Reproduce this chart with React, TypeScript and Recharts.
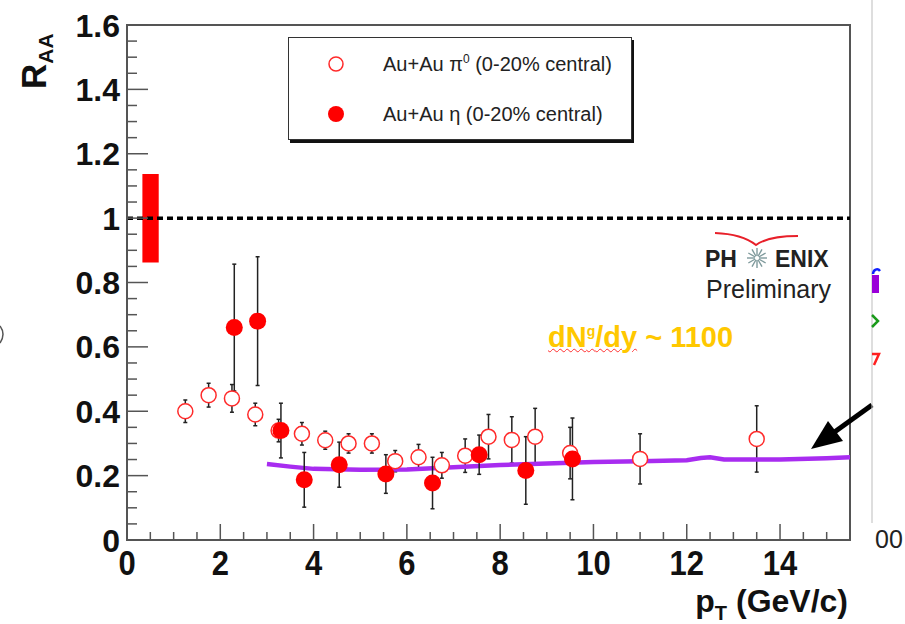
import React from "react";
import {
  ComposedChart,
  Scatter,
  Line,
  XAxis,
  YAxis,
  ErrorBar,
  ReferenceLine,
  ReferenceArea,
} from "recharts";

const FONT = '"Liberation Sans", Arial, Helvetica, sans-serif';

// Au+Au pi0, 0-20% central
const pi0Pt = [1.25, 1.75, 2.25, 2.75, 3.25, 3.75, 4.25, 4.75, 5.25, 5.75, 6.25, 6.75, 7.25, 7.75, 8.25, 8.75, 9.5, 11.0, 13.5];
const pi0Raa = [0.4, 0.45, 0.44, 0.39, 0.34, 0.33, 0.31, 0.3, 0.3, 0.245, 0.257, 0.232, 0.262, 0.321, 0.311, 0.321, 0.27, 0.252, 0.314];
const pi0Err = [0.035, 0.037, 0.043, 0.035, 0.035, 0.035, 0.028, 0.03, 0.03, 0.033, 0.04, 0.04, 0.052, 0.069, 0.072, 0.088, 0.08, 0.078, 0.103];

// Au+Au eta, 0-20% central
const etaPt = [2.3, 2.8, 3.3, 3.8, 4.55, 5.55, 6.55, 7.55, 8.55, 9.55];
const etaRaa = [0.66, 0.68, 0.34, 0.187, 0.234, 0.205, 0.177, 0.265, 0.216, 0.252];
const etaErr = [0.197, 0.2, 0.085, 0.085, 0.07, 0.06, 0.08, 0.061, 0.105, 0.127];

// GLV curve, dNg/dy ~ 1100
const curvePt = [3.0, 3.5, 4.0, 5.0, 6.0, 7.0, 8.0, 9.0, 10.0, 11.0, 12.0, 12.3, 12.5, 12.8, 14.0, 15.0, 15.5];
const curveRaa = [0.236, 0.228, 0.221, 0.218, 0.219, 0.226, 0.233, 0.238, 0.242, 0.245, 0.248, 0.255, 0.257, 0.25, 0.25, 0.254, 0.257];

// normalisation uncertainty box at R_AA = 1
const normBoxPt = [0.33, 0.68];
const normBoxRaa = [0.862, 1.137];

const xMajor = [0, 2, 4, 6, 8, 10, 12, 14];
const yMajor = [0, 0.2, 0.4, 0.6, 0.8, 1, 1.2, 1.4, 1.6];
const xTicks = Array.from({ length: 32 }, (_, i) => i * 0.5);
const yTicks = Array.from({ length: 33 }, (_, i) => Math.round(i * 5) / 100);

const pi0 = pi0Pt.map((pt, i) => ({ pt, r: pi0Raa[i], err: pi0Err[i] }));
const eta = etaPt.map((pt, i) => ({ pt, r: etaRaa[i], err: etaErr[i] }));
const curve = curvePt.map((pt, i) => ({ pt, r: curveRaa[i] }));

const isMajor = (list: number[], v: number) => list.some((m) => Math.abs(m - v) < 1e-6);

const XTick = (props: any) => {
  const { x, y, payload } = props;
  const major = isMajor(xMajor, payload.value);
  return (
    <g>
      <line x1={x} x2={x} y1={y} y2={y - (major ? 16 : 8)} stroke="#555" strokeWidth={1.5} />
      {major && (
        <text
          transform={`translate(${x},${y + 35}) scale(1,1.12)`}
          textAnchor="middle"
          fontFamily={FONT}
          fontWeight="bold"
          fontSize={31}
          fill="#111"
        >
          {payload.value}
        </text>
      )}
    </g>
  );
};

const YTick = (props: any) => {
  const { x, y, payload } = props;
  const major = isMajor(yMajor, payload.value);
  return (
    <g>
      <line x1={x} x2={x + (major ? 21 : 10)} y1={y} y2={y} stroke="#555" strokeWidth={1.5} />
      {major && (
        <text
          x={x - 7}
          y={y + 11.5}
          textAnchor="end"
          fontFamily={FONT}
          fontWeight="bold"
          fontSize={32}
          fill="#111"
        >
          {String(Number(payload.value.toFixed(1)))}
        </text>
      )}
    </g>
  );
};

const OpenCircle = (p: any) => (
  <circle cx={p.cx} cy={p.cy} r={7.5} fill="#fff" stroke="#ff2a2a" strokeWidth={1.5} />
);
const FullCircle = (p: any) => <circle cx={p.cx} cy={p.cy} r={8.5} fill="#ff0000" />;

function Legend() {
  const row = (filled: boolean, top: number, label: React.ReactNode) => (
    <div style={{ position: "absolute", left: 0, top, height: 20, display: "flex", alignItems: "center" }}>
      <svg width={20} height={20} style={{ position: "absolute", left: 37, top: 0 }}>
        {filled ? (
          <circle cx={10} cy={10} r={8} fill="#ff0000" />
        ) : (
          <circle cx={10} cy={10} r={7} fill="#fff" stroke="#ff2a2a" strokeWidth={1.5} />
        )}
      </svg>
      <span style={{ position: "absolute", left: 94, whiteSpace: "nowrap", fontSize: 20, color: "#222" }}>
        {label}
      </span>
    </div>
  );
  return (
    <div
      style={{
        position: "absolute",
        left: 288,
        top: 37,
        width: 342,
        height: 101,
        border: "1.5px solid #333",
        boxShadow: "2px 3px 0 #111",
        background: "#fff",
        fontFamily: FONT,
      }}
    >
      {row(false, 16, <>Au+Au π<sup style={{ fontSize: 12 }}>0</sup> (0-20% central)</>)}
      {row(true, 66, <>Au+Au η (0-20% central)</>)}
    </div>
  );
}

export default function App() {
  return (
    <div style={{ position: "absolute", left: 0, top: 0, width: 905, height: 624, background: "#fff", overflow: "hidden" }}>
      <ComposedChart width={905} height={624} margin={{ top: 25, right: 55, bottom: 24, left: 0 }}>
        <XAxis
          dataKey="pt"
          type="number"
          domain={[0, 15.5]}
          ticks={xTicks}
          interval={0}
          allowDataOverflow
          height={60}
          tickSize={0}
          tickMargin={0}
          tickLine={false}
          axisLine={{ stroke: "#555", strokeWidth: 2 }}
          tick={<XTick />}
        />
        <YAxis
          type="number"
          domain={[0, 1.6]}
          ticks={yTicks}
          interval={0}
          allowDataOverflow
          width={127}
          tickSize={0}
          tickMargin={0}
          tickLine={false}
          axisLine={{ stroke: "#555", strokeWidth: 2 }}
          tick={<YTick />}
        />
        <ReferenceArea x1={0} x2={15.5} y1={0} y2={1.6} fill="none" stroke="#555" strokeWidth={2} />
        <ReferenceArea
          x1={normBoxPt[0]}
          x2={normBoxPt[1]}
          y1={normBoxRaa[0]}
          y2={normBoxRaa[1]}
          fill="#ff0000"
          fillOpacity={1}
          stroke="none"
        />
        <ReferenceLine y={1} stroke="#000" strokeWidth={3.5} strokeDasharray="6 4" />
        <Scatter data={pi0} dataKey="r" shape={OpenCircle} isAnimationActive={false}>
          <ErrorBar dataKey="err" direction="y" width={2} stroke="#222" strokeWidth={1.5} />
        </Scatter>
        <Line
          data={curve}
          dataKey="r"
          type="linear"
          stroke="#a82cf0"
          strokeWidth={4.5}
          dot={false}
          isAnimationActive={false}
        />
        <Scatter data={eta} dataKey="r" shape={FullCircle} isAnimationActive={false}>
          <ErrorBar dataKey="err" direction="y" width={2} stroke="#222" strokeWidth={1.5} />
        </Scatter>
      </ComposedChart>

      <Legend />

      <div
        style={{
          position: "absolute",
          left: 548,
          top: 321,
          fontFamily: FONT,
          fontWeight: "bold",
          fontSize: 29,
          color: "#ffc800",
          whiteSpace: "nowrap",
        }}
      >
        <span style={{ textDecoration: "underline wavy #ff3030", textDecorationThickness: 1 }}>
          dN<sup style={{ fontSize: 14 }}>g</sup>
        </span>
        <span style={{ textDecoration: "underline wavy #ff3030", textDecorationThickness: 1 }}>/dy</span> ~ 1100
      </div>

      <svg width={905} height={624} style={{ position: "absolute", left: 0, top: 0, pointerEvents: "none" }}>
        {/* axis titles */}
        <text transform="translate(46,89) rotate(-90)" fontFamily={FONT} fontWeight="bold" fontSize={35} fill="#111">
          R<tspan fontSize={21} dy={7}>AA</tspan>
        </text>
        <text x={848} y={612} textAnchor="end" fontFamily={FONT} fontWeight="bold" fontSize={32} fill="#111">
          p<tspan fontSize={20} dy={8}>T</tspan>
          <tspan dy={-8}> (GeV/c)</tspan>
        </text>

        {/* PHENIX logo */}
        <path d="M715,233 Q742,234 756,245 Q768,236 798,236" stroke="#e8202a" strokeWidth={2} fill="none" />
        <text x={705} y={267} fontFamily={FONT} fontWeight="bold" fontSize={23} fill="#222">PH</text>
        <text x={775} y={267} fontFamily={FONT} fontWeight="bold" fontSize={23} fill="#222">ENIX</text>
        <g stroke="#7f9a9c" strokeWidth={1.4}>
          {Array.from({ length: 12 }, (_, i) => {
            const a = (i * Math.PI) / 6;
            return <line key={i} x1={757 + 2 * Math.cos(a)} y1={258 + 2 * Math.sin(a)} x2={757 + 10 * Math.cos(a)} y2={258 + 10 * Math.sin(a)} />;
          })}
        </g>
        <text x={706} y={298} fontFamily={FONT} fontSize={25} fill="#222">Preliminary</text>

        {/* arrow */}
        <line x1={872} y1={405} x2={822} y2={441} stroke="#000" strokeWidth={5} />
        <polygon points="811,449 828,421 843,441" fill="#000" />

        {/* slide leftovers at the right and left edges */}
        <line x1={872} y1={0} x2={872} y2={523} stroke="#bdbdbd" strokeWidth={1} />
        <path d="M873,274 A4,5 0 0 1 880,271" stroke="#1020ff" strokeWidth={2.5} fill="none" />
        <rect x={872} y={275} width={7} height={18} fill="#9a00d8" />
        <polyline points="872,315 878,321 872,327" stroke="#1a9a1a" strokeWidth={2.5} fill="none" />
        <polyline points="872,354 879,354 874,365" stroke="#ff2020" strokeWidth={2.5} fill="none" />
        <path d="M0,326 Q6,334 0,343" stroke="#555" strokeWidth={1.5} fill="none" />
        <text x={875} y={548} fontFamily={FONT} fontSize={25} fill="#222">00</text>
      </svg>
    </div>
  );
}
